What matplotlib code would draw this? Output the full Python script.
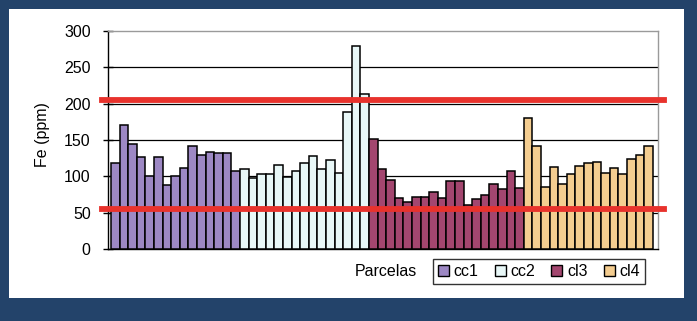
import matplotlib.pyplot as plt
import matplotlib.patches as mpatches
import numpy as np

plt.rcParams['font.family'] = ['Liberation Sans', 'DejaVu Sans']

# Fe (ppm) por parcela
cc1 = [119, 170, 145, 126, 100, 126, 88, 100, 112, 142, 130, 134, 132, 132, 107]
cc2 = [110, 98, 103, 103, 115, 99, 107, 119, 128, 110, 123, 104, 189, 279, 213]
cl3 = [151, 110, 95, 70, 65, 72, 72, 78, 70, 93, 93, 60, 69, 75, 89, 83, 108, 84]
cl4 = [180, 142, 85, 113, 90, 103, 114, 118, 120, 105, 111, 103, 124, 130, 142]

series = ["cc1", "cc2", "cl3", "cl4"]
colores = ["#9d88c4", "#e8f7f7", "#a3466f", "#f4cd90"]
limites = [205, 55]

W, H = 697, 321
fig = plt.figure(figsize=(W / 100, H / 100), dpi=100, facecolor="#23436a")

# fondo blanco dentro del marco azul
fondo = mpatches.Rectangle((9 / W, 1 - 298 / H), (684 - 9) / W, (298 - 9) / H,
                           transform=fig.transFigure, facecolor="white",
                           edgecolor="none", zorder=0)
fig.patches.append(fondo)

ax = fig.add_axes([108 / W, 1 - 249 / H, (658 - 108) / W, (249 - 31) / H])
ax.set_zorder(2)
ax.set_facecolor("white")

inicio = 0
for nombre, valores, color in zip(series, [cc1, cc2, cl3, cl4], colores):
    x = np.arange(inicio, inicio + len(valores))
    ax.bar(x, valores, width=1.0, color=color, edgecolor="black",
           linewidth=1.1, label=nombre, zorder=3)
    inicio += len(valores)

ax.set_xlim(-0.85, inicio - 0.5 + 0.6)
ax.set_ylim(0, 300)
ax.set_yticks(np.arange(0, 301, 50))
ax.set_xticks([])

# lineas de rejilla
for v in range(50, 300, 50):
    ax.axhline(v, color="black", linewidth=0.9, zorder=1)

# limites de referencia en rojo
for lim in limites:
    ax.axhline(lim, xmin=-0.01, xmax=1.01, color="#e8322c", linewidth=4.2,
               zorder=5, clip_on=False)

ax.spines["left"].set_color("black")
ax.spines["bottom"].set_color("black")
ax.spines["top"].set_color("#9a9a9a")
ax.spines["right"].set_color("#9a9a9a")
for s in ax.spines.values():
    s.set_linewidth(1)

ax.tick_params(axis="y", direction="inout", length=7, width=1, pad=9,
               labelsize=11.5, colors="black")

fig.text(43 / W, 1 - 135 / H, "Fe (ppm)", rotation=90, ha="center",
         va="center", fontsize=11.5, zorder=3)
fig.text(386 / W, 1 - 272 / H, "Parcelas", ha="center", va="center",
         fontsize=11.5, zorder=3)

handles = [mpatches.Patch(facecolor=c, edgecolor="black", linewidth=1)
           for c in colores]
leg = fig.legend(handles, series, ncol=4, loc="upper left",
                 bbox_to_anchor=(433 / W, 1 - 259 / H), fontsize=11.5,
                 frameon=True, fancybox=False, handlelength=0.7,
                 handleheight=0.7, handletextpad=0.3, columnspacing=1.0,
                 borderpad=0.3, borderaxespad=0)
leg.set_zorder(3)
leg.get_frame().set_edgecolor("black")
leg.get_frame().set_linewidth(1)

fig.savefig("out.png", dpi=100, facecolor=fig.get_facecolor())
